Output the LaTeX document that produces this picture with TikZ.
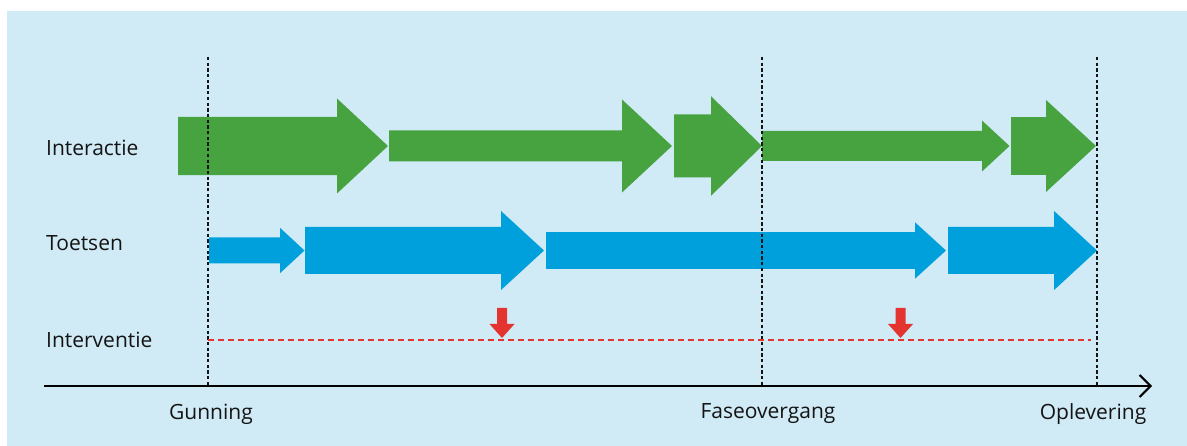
\documentclass[tikz,border=0pt]{standalone}
\usepackage{fontspec}
\setmainfont{Open Sans}
\usetikzlibrary{arrows.meta}
\definecolor{bgblue}{HTML}{D0EAF6}
\definecolor{flowgreen}{HTML}{46A340}
\definecolor{flowblue}{HTML}{00A0DD}
\definecolor{alertred}{HTML}{E3342F}
\definecolor{inkdark}{HTML}{141414}
% block arrow: #1 colour, #2 y centre, #3 x start, #4 x head base, #5 x tip,
% #6 half body height, #7 half head height
\newcommand\fatarrow[7]{%
  \fill[#1] (#3,{#2-#6}) -- (#4,{#2-#6}) -- (#4,{#2-#7}) -- (#5,#2)
    -- (#4,{#2+#7}) -- (#4,{#2+#6}) -- (#3,{#2+#6}) -- cycle;}
% small downward marker: #1 x centre
\newcommand\dropmark[1]{%
  \fill[alertred] ({#1-5},308) -- ({#1+5},308) -- ({#1+5},324) -- ({#1+12.5},324)
    -- (#1,338) -- ({#1-12.5},324) -- ({#1-5},324) -- cycle;}
\begin{document}
\begin{tikzpicture}[x=1pt,y=-1pt,
  rowlabel/.style={anchor=west,inner sep=0pt,font=\fontsize{21}{24}\selectfont,text=inkdark},
  milestone/.style={anchor=center,inner sep=0pt,font=\fontsize{21}{24}\selectfont,text=inkdark},
  guide/.style={draw=inkdark,line width=1.2pt,dash pattern=on 3.3pt off 2.4pt},
  plan/.style={draw=alertred,line width=1.8pt,dash pattern=on 5.7pt off 4.3pt},
  timeaxis/.style={draw=black,line width=2pt,-{Straight Barb[length=11pt,width=22pt,line width=2pt]}}]
\useasboundingbox (0,0) rectangle (1187,446);
\fill[bgblue] (7,11) rectangle (1187,446);

% interaction row
\fatarrow{flowgreen}{146}{178}{337}{388}{29.2}{47.5}
\fatarrow{flowgreen}{146}{389}{622}{672}{15.5}{46.5}
\fatarrow{flowgreen}{146}{674}{711}{762}{31.5}{49.8}
\fatarrow{flowgreen}{146}{762}{982}{1009.5}{15}{25.5}
\fatarrow{flowgreen}{146}{1011}{1046}{1096}{28.8}{46}

% testing row
\fatarrow{flowblue}{250.5}{209}{280}{304.5}{13}{22.7}
\fatarrow{flowblue}{250.5}{305}{501}{544}{23.5}{39.5}
\fatarrow{flowblue}{250.5}{546}{915}{946}{18.3}{28.2}
\fatarrow{flowblue}{250.5}{948}{1054}{1097}{23.5}{39.6}

% milestone guides and time axis
\coordinate (gunTop) at (208,57);
\coordinate (gunBot) at (208,386);
\coordinate (faseTop) at (762,57);
\coordinate (faseBot) at (762,386);
\coordinate (opTop) at (1097,57);
\coordinate (opBot) at (1097,386);
\draw[guide] (gunTop) -- (gunBot);
\draw[guide] (faseTop) -- (faseBot);
\draw[guide] (opTop) -- (opBot);

\coordinate (axisStart) at (44,386);
\coordinate (axisEnd) at (1152,386);
\draw[timeaxis] (axisStart) -- (axisEnd);

% intervention row
\coordinate (planStart) at (208,340);
\coordinate (planEnd) at (1091,340);
\draw[plan] (planStart) -- (planEnd);
\dropmark{502}
\dropmark{900.5}

% labels
\node[rowlabel] (lblInter) at (46,148) {Interactie};
\node[rowlabel] (lblToets) at (46,243) {Toetsen};
\node[rowlabel] (lblInterv) at (46,340) {Interventie};
\node[milestone] (lblGun) at (211,414) {Gunning};
\node[milestone] (lblFase) at (768,414) {Faseovergang};
\node[milestone] (lblOp) at (1093,414) {Oplevering};
\end{tikzpicture}
\end{document}
